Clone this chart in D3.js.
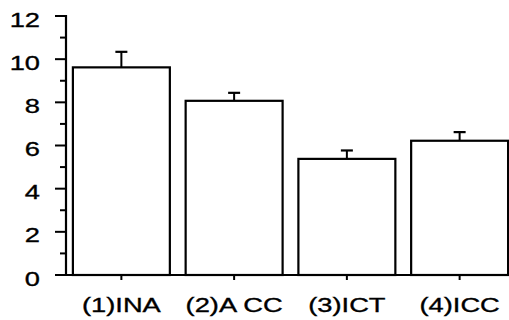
<!DOCTYPE html>
<html>
<head>
<meta charset="utf-8">
<script src="https://cdn.jsdelivr.net/npm/d3@7"></script>
<style>
  html, body { margin: 0; padding: 0; background: #fff; }
  svg { display: block; }
  text { font-family: Arial, "Liberation Sans", sans-serif; fill: #000; stroke: #000; stroke-width: 0.35; }
</style>
</head>
<body>
<svg id="chart" width="509" height="320"></svg>
<script>
const categories = ["(1)INA", "(2)A CC", "(3)ICT", "(4)ICC"];
const means = [9.62, 8.07, 5.38, 6.22];
const errors = [0.72, 0.37, 0.39, 0.40];
const majorTicks = [0, 2, 4, 6, 8, 10, 12];
const minorTicks = [1, 3, 5, 7, 9, 11];

const svg = d3.select("#chart");
const axisX = 66, baseY = 275, topY = 16;

const y = d3.scaleLinear().domain([0, 12]).range([baseY, topY]);
const x = d3.scaleBand().domain(categories).range([65, 516])
  .paddingInner(0.14).paddingOuter(0.07);

const data = categories.map((c, i) => ({ c, m: means[i], e: errors[i] }));

// bars
svg.selectAll("rect.bar").data(data).enter().append("rect")
  .attr("x", d => x(d.c))
  .attr("y", d => y(d.m))
  .attr("width", x.bandwidth())
  .attr("height", d => y(0) - y(d.m))
  .attr("fill", "#fff").attr("stroke", "#000").attr("stroke-width", 2.2);

// error bars
const eb = svg.selectAll("g.err").data(data).enter().append("g");
eb.append("line")
  .attr("x1", d => x(d.c) + x.bandwidth() / 2).attr("x2", d => x(d.c) + x.bandwidth() / 2)
  .attr("y1", d => y(d.m)).attr("y2", d => y(d.m + d.e))
  .attr("stroke", "#000").attr("stroke-width", 2);
eb.append("line")
  .attr("x1", d => x(d.c) + x.bandwidth() / 2 - 6).attr("x2", d => x(d.c) + x.bandwidth() / 2 + 6)
  .attr("y1", d => y(d.m + d.e)).attr("y2", d => y(d.m + d.e))
  .attr("stroke", "#000").attr("stroke-width", 2.2);

// y axis
svg.append("line").attr("x1", axisX).attr("x2", axisX)
  .attr("y1", y(12) - 1).attr("y2", baseY)
  .attr("stroke", "#000").attr("stroke-width", 2.2);
svg.selectAll("line.maj").data(majorTicks).enter().append("line")
  .attr("x1", 55).attr("x2", axisX).attr("y1", d => y(d)).attr("y2", d => y(d))
  .attr("stroke", "#000").attr("stroke-width", 2);
svg.selectAll("line.min").data(minorTicks).enter().append("line")
  .attr("x1", 60).attr("x2", axisX).attr("y1", d => y(d)).attr("y2", d => y(d))
  .attr("stroke", "#000").attr("stroke-width", 2);
svg.selectAll("text.ylab").data(majorTicks).enter().append("text")
  .attr("transform", d => `translate(40,${y(d) + 10.5}) scale(1.3,1)`)
  .attr("text-anchor", "end").attr("font-size", 21)
  .text(d => d);

// x axis
svg.append("line").attr("x1", 55).attr("x2", 509)
  .attr("y1", baseY).attr("y2", baseY)
  .attr("stroke", "#000").attr("stroke-width", 2.2);
svg.selectAll("line.xt").data(categories).enter().append("line")
  .attr("x1", d => x(d) + x.bandwidth() / 2).attr("x2", d => x(d) + x.bandwidth() / 2)
  .attr("y1", baseY).attr("y2", baseY + 5)
  .attr("stroke", "#000").attr("stroke-width", 2);
svg.selectAll("text.xlab").data(categories).enter().append("text")
  .attr("transform", d => `translate(${x(d) + x.bandwidth() / 2},311.5) scale(1.3,1)`)
  .attr("text-anchor", "middle").attr("font-size", 21)
  .text(d => d);
</script>
</body>
</html>
